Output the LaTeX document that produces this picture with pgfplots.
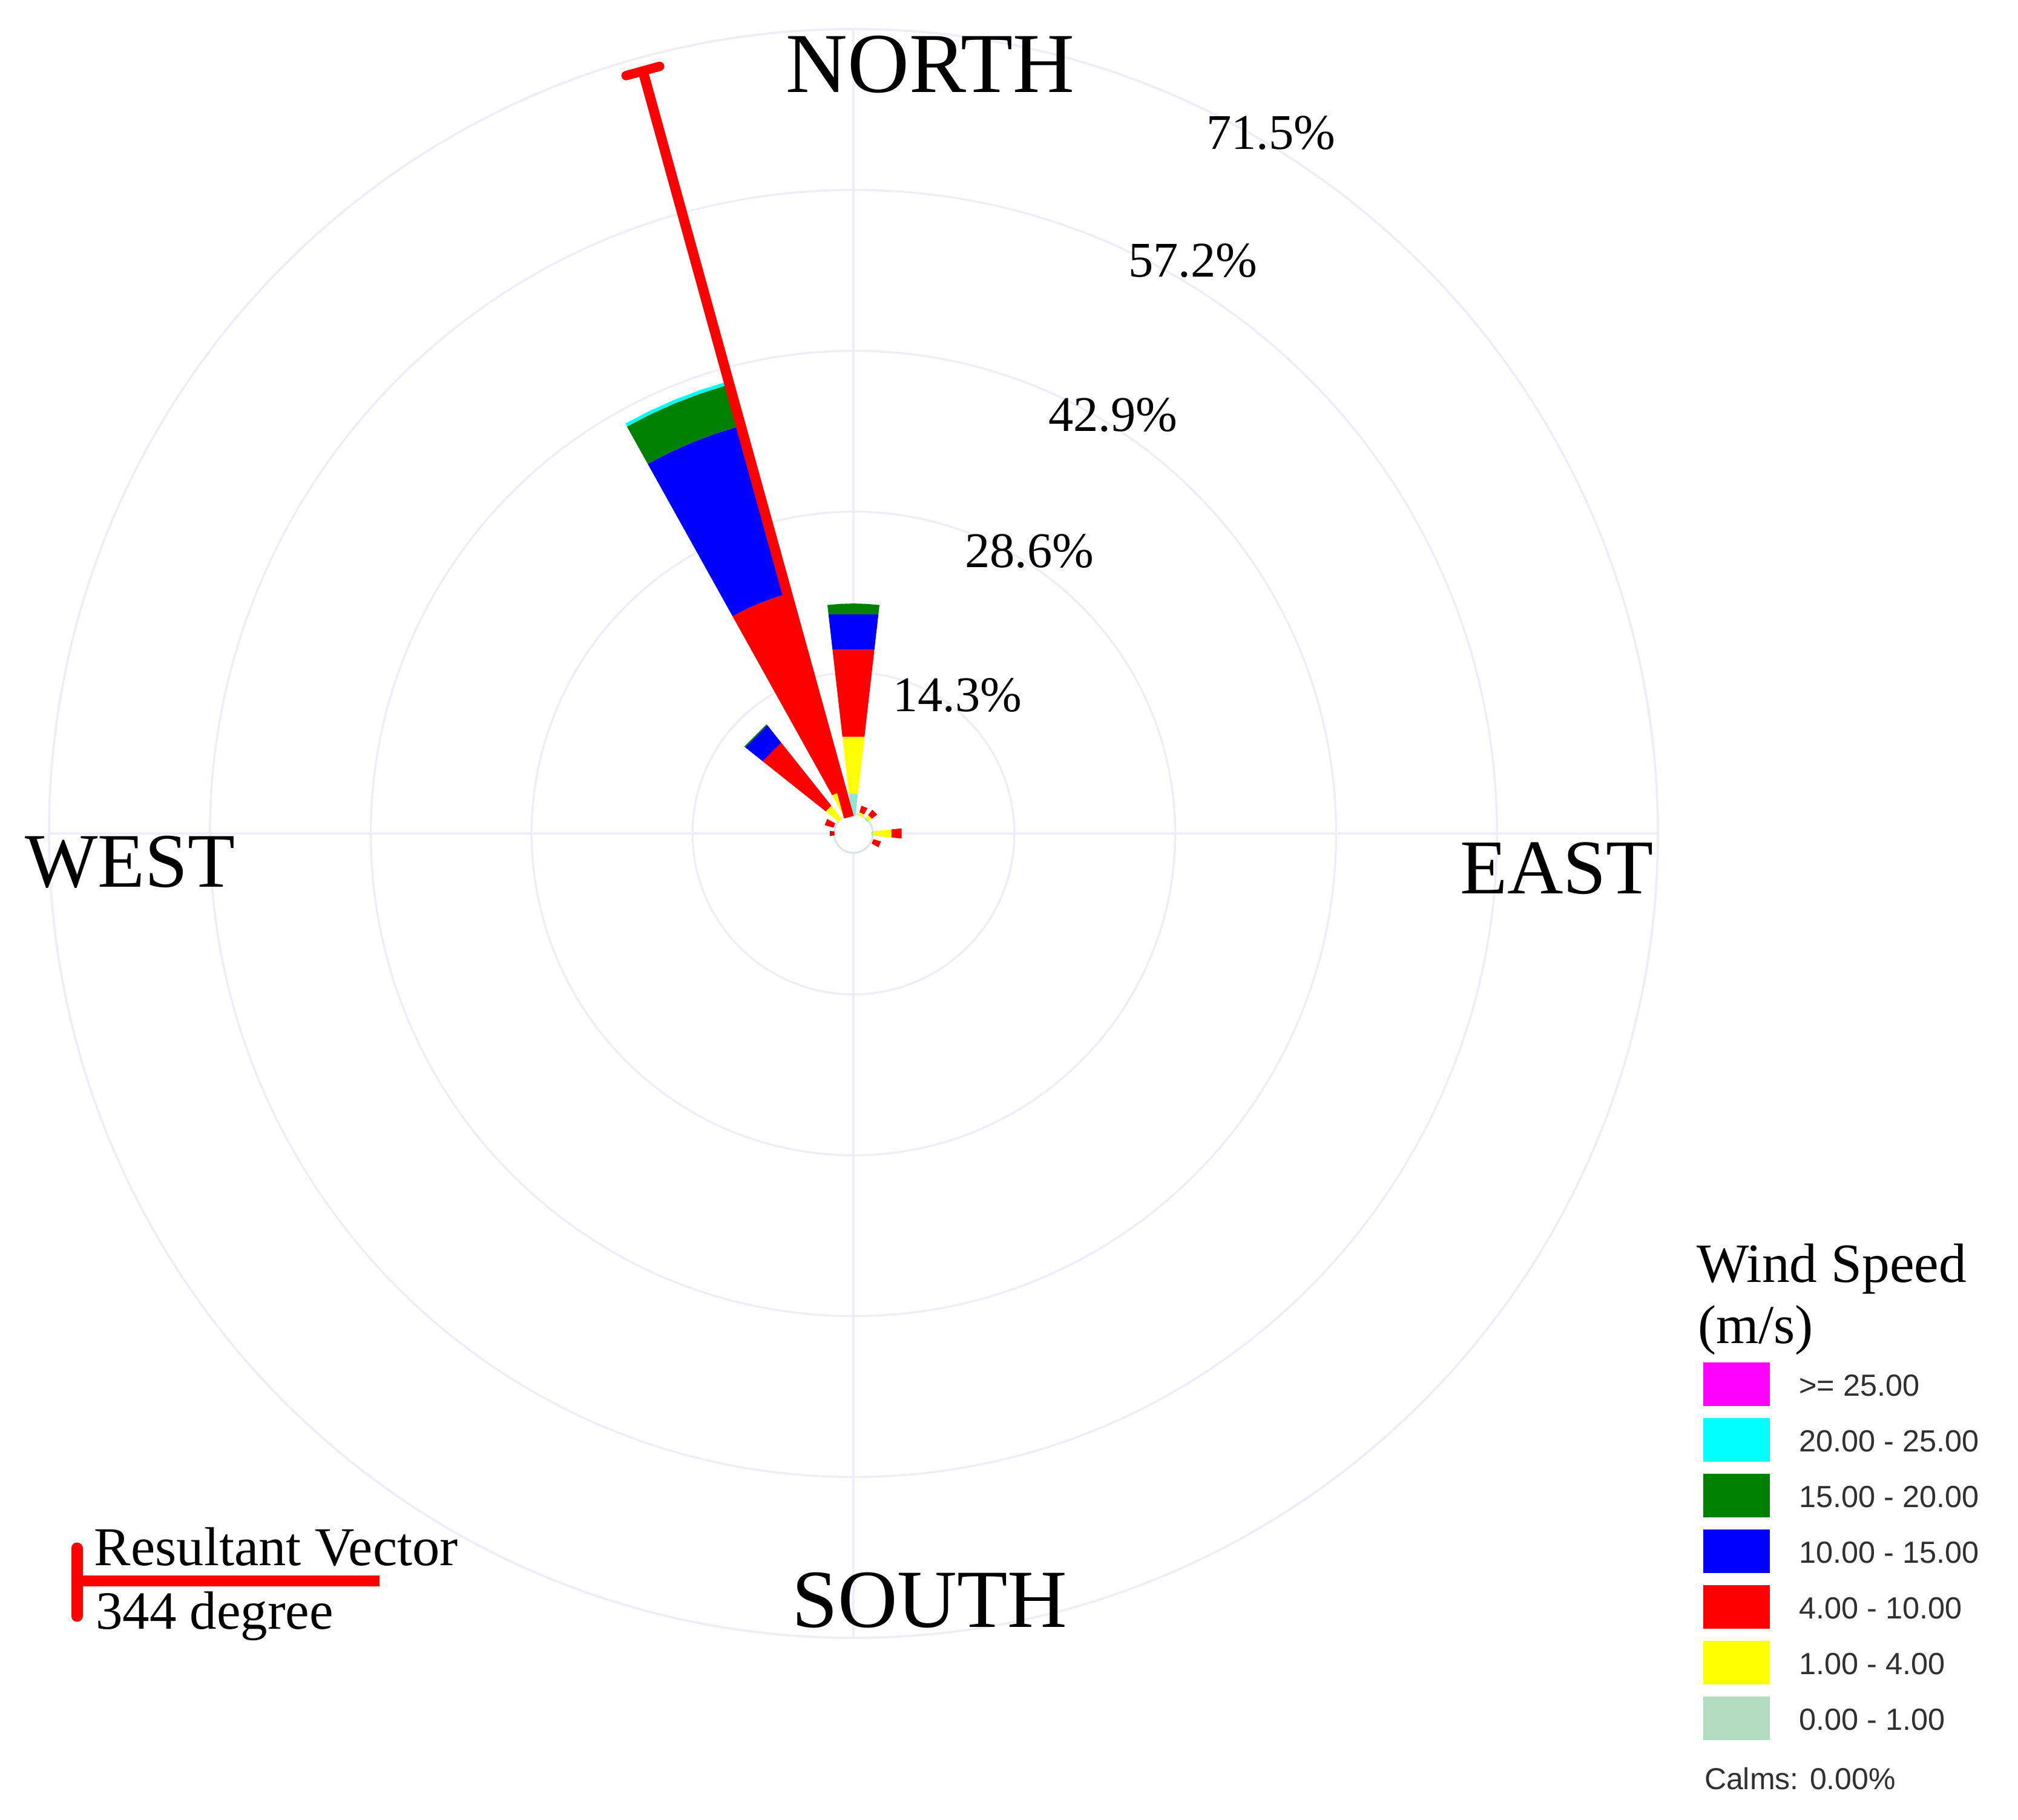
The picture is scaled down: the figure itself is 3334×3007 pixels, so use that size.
\documentclass[border=0pt]{standalone}
\usepackage{pgfplots}
\pgfplotsset{compat=1.18}
\usepgfplotslibrary{polar}
\usepackage{fontspec}
\setmainfont{Liberation Serif}
\newfontfamily\lsans{Liberation Sans}
\definecolor{gridl}{HTML}{EEEEF7}
\definecolor{holec}{HTML}{DDE2E2}
\definecolor{calmr}{HTML}{8FE6D5}
\definecolor{calml}{HTML}{B2DBBF}
\definecolor{gr}{HTML}{008000}
\definecolor{txtg}{HTML}{303030}
\definecolor{rred}{HTML}{FF0000}
\definecolor{rblue}{HTML}{0000FF}
\definecolor{ryel}{HTML}{FFFF00}
\definecolor{rcyan}{HTML}{00FFFF}
\definecolor{rmag}{HTML}{FF00FF}
\begin{document}
\begin{tikzpicture}[x=0.2pt,y=-0.2pt]
\path[use as bounding box] (0,0) rectangle (3334,3007);
\begin{polaraxis}[
  at={(282pt,-275.4pt)},anchor=origin,
  scale only axis,width=531.6pt,height=531.6pt,
  xmin=0,xmax=360,ymin=0,ymax=71.5,
  xtick={0,90,180,270},ytick={14.3,28.6,42.9,57.2,71.5},
  xticklabels={},yticklabels={},
  tick style={draw=none},
  grid=major,
  grid style={gridl,line width=0.7pt},
  axis line style={gridl,line width=0.7pt},
]
\fill[white,draw=holec,line width=0.6pt] (axis cs:0,0) circle[radius=6.4pt];
% sector N (compass 0)
\addplot[fill=calmr,draw=none] coordinates {(83.5,1.55)(96.5,1.55)(96.5,3.55)(83.5,3.55)} --cycle;
\addplot[fill=ryel,draw=none] coordinates {(83.5,3.55)(96.5,3.55)(96.5,8.65)(83.5,8.65)} --cycle;
\addplot[fill=rred,draw=none] coordinates {(83.5,8.65)(96.5,8.65)(96.5,16.43)(83.5,16.43)} --cycle;
\addplot[fill=rblue,draw=none] coordinates {(83.5,16.43)(96.5,16.43)(96.5,19.6)(83.5,19.6)} --cycle;
\addplot[fill=gr,draw=none] coordinates {(83.5,19.6)(96.5,19.6)(96.5,20.44)(93.25,20.44)(90,20.44)(86.75,20.44)(83.5,20.44)} --cycle;
% sector NNW (compass 337.5)
\addplot[fill=ryel,draw=none] coordinates {(105.9,1.75)(119.1,1.75)(119.1,3.9)(105.9,3.9)} --cycle;
\addplot[fill=rred,draw=none] coordinates {(105.9,3.9)(119.1,3.9)(119.1,22.1)(115.8,22.1)(112.5,22.1)(109.2,22.1)(105.9,22.1)} --cycle;
\addplot[fill=rblue,draw=none] coordinates {(105.9,22.1)(109.2,22.1)(112.5,22.1)(115.8,22.1)(119.1,22.1)(119.1,37.6)(115.8,37.6)(112.5,37.6)(109.2,37.6)(105.9,37.6)} --cycle;
\addplot[fill=gr,draw=none] coordinates {(105.9,37.6)(109.2,37.6)(112.5,37.6)(115.8,37.6)(119.1,37.6)(119.1,41.4)(115.8,41.4)(112.5,41.4)(109.2,41.4)(105.9,41.4)} --cycle;
\addplot[fill=rcyan,draw=none] coordinates {(105.9,41.4)(109.2,41.4)(112.5,41.4)(115.8,41.4)(119.1,41.4)(119.1,41.7)(115.8,41.7)(112.5,41.7)(109.2,41.7)(105.9,41.7)} --cycle;
% sector NW (compass 315)
\addplot[fill=ryel,draw=none] coordinates {(128.5,1.67)(141.5,1.67)(141.5,3.16)(128.5,3.16)} --cycle;
\addplot[fill=rred,draw=none] coordinates {(128.5,3.16)(141.5,3.16)(141.5,10.33)(128.5,10.33)} --cycle;
\addplot[fill=rblue,draw=none] coordinates {(128.5,10.33)(141.5,10.33)(141.5,12.3)(128.5,12.3)} --cycle;
\addplot[fill=gr,draw=none] coordinates {(128.5,12.3)(141.5,12.3)(141.5,12.4)(128.5,12.4)} --cycle;
% sector NNE (compass 22.5)
\addplot[fill=ryel,draw=none] coordinates {(61,1.65)(74,1.65)(74,1.95)(61,1.95)} --cycle;
\addplot[fill=rred,draw=none] coordinates {(61,1.95)(74,1.95)(74,2.57)(61,2.57)} --cycle;
% sector NE (compass 45)
\addplot[fill=calmr,draw=none] coordinates {(38.5,1.6)(51.5,1.6)(51.5,1.75)(38.5,1.75)} --cycle;
\addplot[fill=ryel,draw=none] coordinates {(38.5,1.75)(51.5,1.75)(51.5,2.1)(38.5,2.1)} --cycle;
\addplot[fill=rred,draw=none] coordinates {(38.5,2.1)(51.5,2.1)(51.5,2.7)(38.5,2.7)} --cycle;
% sector E (compass 90)
\addplot[fill=calmr,draw=none] coordinates {(-6,1.6)(6,1.6)(6,1.75)(-6,1.75)} --cycle;
\addplot[fill=ryel,draw=none] coordinates {(-6,1.75)(6,1.75)(6,3.4)(-6,3.4)} --cycle;
\addplot[fill=rred,draw=none] coordinates {(-6,3.4)(6,3.4)(6,4.3)(-6,4.3)} --cycle;
% sector ESE (compass 112.5)
\addplot[fill=rred,draw=none] coordinates {(-29,1.85)(-16,1.85)(-16,2.55)(-29,2.55)} --cycle;
% sector W (compass 270)
\addplot[fill=red!85!black,draw=none] coordinates {(174,1.7)(186,1.7)(186,2.1)(174,2.1)} --cycle;
% sector WNW (compass 292.5)
\addplot[fill=rred,draw=none] coordinates {(151,1.85)(164,1.85)(164,2.66)(151,2.66)} --cycle;
% resultant vector, 344 degrees
\addplot[rred,line width=3.3pt] coordinates {(105.44,1.5)(105.44,70.3)};
\addplot[rred,line width=3.1pt,line cap=round] coordinates {(106.7,70.33)(104.18,70.33)};
\end{polaraxis}
% direction labels
\node[anchor=base,font=\fontsize{28.2}{30}\selectfont,inner sep=0] at (1537,153) {NORTH};
\node[anchor=base,font=\fontsize{27.3}{30}\selectfont,inner sep=0] at (1536,2688) {SOUTH};
\node[anchor=base,font=\fontsize{25.6}{30}\selectfont,inner sep=0] at (2572,1477) {EAST};
\node[anchor=base,font=\fontsize{25.5}{30}\selectfont,inner sep=0] at (215,1466) {WEST};
% ring labels
\foreach \t/\px/\py in {71.5\%/2100/247,57.2\%/1971/458,42.9\%/1839/713,28.6\%/1701/938,14.3\%/1582/1176}
  \node[anchor=base,font=\fontsize{16.5}{18}\selectfont,inner sep=0] at (\px,\py) {\t};
% legend
\node[anchor=base west,font=\fontsize{18.3}{20}\selectfont,inner sep=0] at (2802,2118) {Wind Speed};
\node[anchor=base west,font=\fontsize{18.1}{20}\selectfont,inner sep=0] at (2804,2219) {(m/s)};
\foreach \c/\yy/\t in {rmag/2251/{>= 25.00},rcyan/2343/{20.00 - 25.00},gr/2435/{15.00 - 20.00},rblue/2527/{10.00 - 15.00},rred/2619/{4.00 - 10.00},ryel/2711/{1.00 - 4.00},calml/2803/{0.00 - 1.00}}{
  \fill[\c] (2814,\yy) rectangle ++(110,72);
  \node[anchor=west,font=\lsans\fontsize{10.1}{12}\selectfont,text=txtg,inner sep=0] at (2971,\yy+38) {\t};
}
\node[anchor=west,font=\lsans\fontsize{10}{12}\selectfont,text=txtg,inner sep=0] at (2815,2939) {Calms: 0.00\%};
% resultant vector key
\draw[rred,line width=3.8pt,line cap=round] (127,2558) -- (127,2670);
\draw[rred,line width=3.6pt] (127,2612) -- (627,2612);
\node[anchor=base west,font=\fontsize{18.1}{20}\selectfont,inner sep=0] at (155,2586) {Resultant Vector};
\node[anchor=base west,font=\fontsize{17.8}{20}\selectfont,inner sep=0] at (157,2691) {344 degree};
\end{tikzpicture}
\end{document}
